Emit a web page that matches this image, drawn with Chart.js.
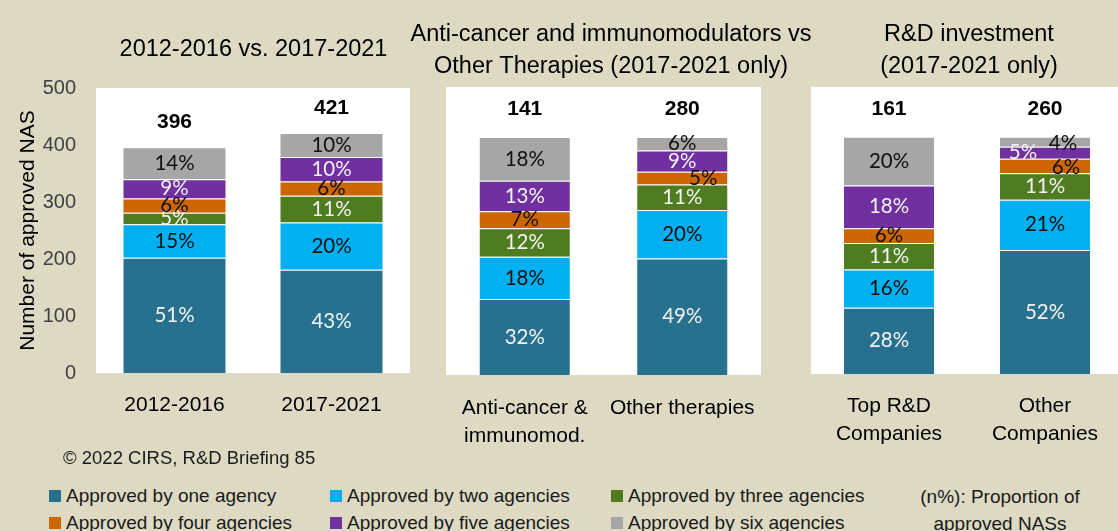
<!DOCTYPE html>
<html>
<head>
<meta charset="utf-8">
<script src="https://cdn.jsdelivr.net/npm/chart.js@4.4.1/dist/chart.umd.min.js"></script>
<style>
  html, body { margin: 0; padding: 0; }
  body {
    width: 1118px; height: 531px; overflow: hidden; position: relative;
    background: #ddd9c3; font-family: "Liberation Sans", Arial, sans-serif;
  }
  canvas { position: absolute; top: 0; }
  .txt { position: absolute; white-space: nowrap; line-height: 1; color: #1a1a1a; }
  .sw { position: absolute; width: 12px; height: 12px; }
</style>
</head>
<body>
<canvas id="c1" width="430" height="460" style="left:0"></canvas>
<canvas id="c2" width="420" height="460" style="left:400px"></canvas>
<canvas id="c3" width="330" height="460" style="left:800px"></canvas>
<div class="txt" style="left:63px;top:449px;font-size:18.5px">© 2022 CIRS, R&amp;D Briefing 85</div>
<div id="legend"></div>
<div class="txt" style="left:1000px;top:483px;font-size:19px;transform:translateX(-50%);text-align:center;line-height:27px">(n%): Proportion of<br>approved NASs</div>

<script>
// categories
const periodLabels = ['2012-2016', '2017-2021'];
const therapyLabels = [['Anti-cancer &', 'immunomod.'], 'Other therapies'];
const companyLabels = [['Top R&D', 'Companies'], ['Other', 'Companies']];
const agencyNames = ['Approved by one agency', 'Approved by two agencies', 'Approved by three agencies',
                     'Approved by four agencies', 'Approved by five agencies', 'Approved by six agencies'];
const agencyColors = ['#27718f', '#00b0f0', '#4f7b21', '#cc6600', '#7030a0', '#a6a6a6'];
const labelColors = ['#f2f2f2', '#111', '#f2f2f2', '#111', '#f2f2f2', '#111'];

// approved NAS counts per bar, one..six agencies
const nas2012to2016 = [202, 59, 20, 25, 34, 56];
const nas2017to2021 = [181, 83, 47, 25, 43, 42];
const nasAntiCancer = [45, 25, 17, 10, 18, 26];
const nasOtherTherapies = [137, 57, 30, 15, 25, 16];
const nasTopRD = [45, 26, 18, 10, 29, 33];
const nasOtherCompanies = [136, 55, 29, 16, 13, 11];

// y axis of the first panel
const yMax = 500;
const yStep = 100;

const FONT = '"Liberation Sans", Arial, sans-serif';

function panelChart(id, labels, bars, cfg) {
  const totals = bars.map(b => b.reduce((a, v) => a + v, 0));
  const datasets = agencyNames.map((name, i) => ({
    label: name,
    data: bars.map((b, j) => cfg.share ? b[i] / totals[j] * 100 : b[i]),
    backgroundColor: agencyColors[i],
    borderColor: 'rgba(255,255,255,0.3)',
    borderWidth: 1,
    categoryPercentage: 1,
    barPercentage: cfg.barPct
  }));

  const barText = {
    id: 'barText',
    beforeDraw(chart) {
      const a = chart.chartArea, ctx = chart.ctx;
      ctx.save();
      ctx.fillStyle = '#ffffff';
      ctx.fillRect(a.left, a.top, a.right - a.left, a.bottom - a.top);
      // panel title
      ctx.fillStyle = '#000';
      ctx.textAlign = 'center';
      ctx.textBaseline = 'middle';
      ctx.font = '23.5px ' + FONT;
      cfg.title.forEach((line, k) => ctx.fillText(line, cfg.titleX, cfg.titleY + k * 32));
      ctx.restore();
    },
    afterDatasetsDraw(chart) {
      const ctx = chart.ctx;
      ctx.save();
      ctx.textAlign = 'center';
      ctx.textBaseline = 'middle';
      ctx.font = '20.5px Lato, "Liberation Sans", sans-serif';
      chart.data.datasets.forEach((ds, i) => {
        chart.getDatasetMeta(i).data.forEach((bar, j) => {
          const pct = Math.round(bars[j][i] / totals[j] * 100);
          const n = (cfg.nudge && cfg.nudge[j + '-' + i]) || [0, 0];
          ctx.fillStyle = labelColors[i];
          ctx.fillText(pct + '%', bar.x + n[0], (bar.y + bar.base) / 2 + n[1]);
        });
      });
      // totals above the bars
      ctx.font = 'bold 21px ' + FONT;
      ctx.fillStyle = '#000';
      const topMeta = chart.getDatasetMeta(chart.data.datasets.length - 1);
      topMeta.data.forEach((bar, j) => ctx.fillText(totals[j], bar.x, bar.y - cfg.totalGap));
      ctx.restore();
    }
  };

  return new Chart(document.getElementById(id), {
    type: 'bar',
    data: { labels: labels, datasets: datasets },
    plugins: [barText],
    options: {
      responsive: false,
      animation: false,
      layout: { padding: cfg.padding },
      plugins: {
        legend: { display: false },
        tooltip: { enabled: false },
        title: { display: false }
      },
      scales: {
        x: {
          stacked: true,
          grid: { display: false, drawTicks: false },
          border: { display: false },
          ticks: {
            color: '#000', maxRotation: 0, autoSkip: false, padding: cfg.xPad,
            font: { family: FONT, size: 21, lineHeight: 28 / 21 }
          },
          afterFit: s => { s.height = cfg.xHeight; }
        },
        y: cfg.yAxis
      }
    }
  });
}

panelChart('c1', periodLabels, [nas2012to2016, nas2017to2021], {
  share: false, barPct: 104 / 157, totalGap: 25,
  title: ['2012-2016 vs. 2017-2021'], titleX: 253.5, titleY: 50,
  padding: { left: 10, right: 20, top: 88, bottom: 0 },
  xHeight: 87, xPad: 18,
  yAxis: {
    stacked: true, min: 0, max: yMax,
    grid: { display: false, drawTicks: false },
    border: { display: false },
    ticks: { stepSize: yStep, padding: 20, color: '#404040', font: { family: FONT, size: 20 } },
    title: {
      display: true, text: 'Number of approved NAS', color: '#000',
      font: { family: FONT, size: 21 }, padding: { top: 6, bottom: 0 }
    },
    afterFit: s => { s.width = 86; }
  }
});

panelChart('c2', therapyLabels, [nasAntiCancer, nasOtherTherapies], {
  share: true, barPct: 92 / 157.5, totalGap: 28,
  title: ['Anti-cancer and immunomodulators vs', 'Other Therapies (2017-2021 only)'],
  titleX: 211, titleY: 35,
  padding: { left: 46, right: 59, top: 87, bottom: 0 },
  xHeight: 85, xPad: 19,
  nudge: { '1-3': [21, 0] },
  yAxis: { stacked: true, display: false, min: 0, max: 121 }
});

panelChart('c3', companyLabels, [nasTopRD, nasOtherCompanies], {
  share: true, barPct: 92 / 156, totalGap: 28,
  title: ['R&D investment', '(2017-2021 only)'],
  titleX: 169, titleY: 35,
  padding: { left: 11, right: 7, top: 87, bottom: 0 },
  xHeight: 86, xPad: 18,
  nudge: { '1-3': [21, 1], '1-4': [-22, 0], '1-5': [18, 2] },
  yAxis: { stacked: true, display: false, min: 0, max: 121 }
});

// legend below the panels
const legend = document.getElementById('legend');
const legCols = [49, 330, 611];
const legRows = [496, 523];
agencyNames.forEach((name, i) => {
  const x = legCols[i % 3], y = legRows[Math.floor(i / 3)];
  const sw = document.createElement('div');
  sw.className = 'sw';
  sw.style.left = x + 'px';
  sw.style.top = (y - 6) + 'px';
  sw.style.background = agencyColors[i];
  legend.appendChild(sw);
  const t = document.createElement('div');
  t.className = 'txt';
  t.style.left = (x + 17) + 'px';
  t.style.top = (y - 10) + 'px';
  t.style.fontSize = '19px';
  t.style.lineHeight = '20px';
  t.textContent = name;
  legend.appendChild(t);
});
</script>
</body>
</html>
